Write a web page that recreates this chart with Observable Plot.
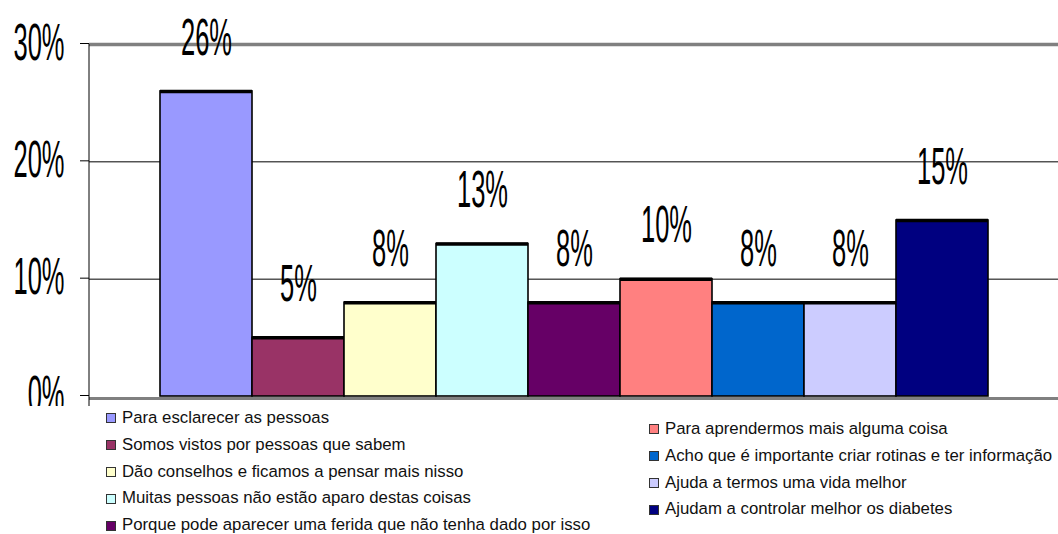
<!DOCTYPE html>
<html><head><meta charset="utf-8">
<script src="https://cdn.jsdelivr.net/npm/d3@7"></script>
<script src="https://cdn.jsdelivr.net/npm/@observablehq/plot@0.6"></script>
<style>
body{margin:0;background:#fff;}
#wrap{position:relative;width:1058px;height:534px;overflow:hidden;font-family:"Liberation Sans",Arial,sans-serif;background:#fff;}
#wrap svg{position:absolute;left:0;top:0;}
.leg{position:absolute;font-size:16.8px;color:#111;}
.item{height:26.8px;line-height:26.8px;white-space:nowrap;display:flex;align-items:center;}
.sw{width:8px;height:8px;border:1px solid #333;margin-right:6px;flex:none;}
</style></head><body><div id="wrap"></div>
<script>
const categories = [
  "Para esclarecer as pessoas",
  "Somos vistos por pessoas que sabem",
  "Dão conselhos e ficamos a pensar mais nisso",
  "Muitas pessoas não estão aparo destas coisas",
  "Porque pode aparecer uma ferida que não tenha dado por isso",
  "Para aprendermos mais alguma coisa",
  "Acho que é importante criar rotinas e ter informação",
  "Ajuda a termos uma vida melhor",
  "Ajudam a controlar melhor os diabetes"
];
const values = [26, 5, 8, 13, 8, 10, 8, 8, 15];
const colors = ["#9999FF", "#993366", "#FFFFCC", "#CCFFFF", "#660066", "#FF8080", "#0066CC", "#CCCCFF", "#000080"];
const yTicks = [0, 10, 20, 30];
const leftLegend = [0, 1, 2, 3, 4];
const rightLegend = [5, 6, 7, 8];

const data = categories.map((c, i) => ({cat: c, value: values[i], color: colors[i], label: values[i] + "%"}));
const FONT = "'Liberation Sans', Arial, sans-serif";

const chart = Plot.plot({
  width: 1058,
  height: 406,
  marginLeft: 89,
  marginRight: 0,
  marginTop: 44,
  marginBottom: 10,
  style: {background: "transparent", fontFamily: FONT},
  x: {type: "band", domain: categories, paddingInner: 0, paddingOuter: 0.76, axis: null},
  y: {domain: [0, 30], axis: null},
  color: {type: "identity"},
  marks: [
    Plot.ruleY(yTicks.filter(t => t > 0 && t < 30), {stroke: "black", strokeWidth: 1}),
    Plot.ruleY([30], {stroke: "#808080", strokeWidth: 3.5}),
    Plot.ruleY([0], {stroke: "#808080", strokeWidth: 3, dy: 2}),
    Plot.barY(data, {x: "cat", y: "value", fill: "color", stroke: "black", strokeWidth: 1.6, inset: 0}),
    Plot.tickY(data, {x: "cat", y: "value", stroke: "black", strokeWidth: 3.5}),
    Plot.text(data, {x: "cat", y: "value", text: "label", dy: -53, fontSize: 51, fontFamily: FONT, fill: "black"}),
    Plot.axisY({ticks: yTicks, tickFormat: d => d + "%", label: null, tickSize: 9, tickPadding: 16, fontSize: 51, fontFamily: FONT, dy: -1, stroke: "black", fill: "black"})
  ]
});

// condense text horizontally
chart.querySelectorAll("text").forEach(t => {
  const tr = t.getAttribute("transform") || "";
  const xa = t.getAttribute("x");
  let pre = "";
  if (xa && !/em$/.test(xa)) { pre = `translate(${+xa},0)`; t.removeAttribute("x"); }
  t.setAttribute("transform", `${tr} ${pre} scale(0.5,1)`);
});

// y axis line
const yS = chart.scale("y");
d3.select(chart).append("line")
  .attr("x1", 89).attr("x2", 89)
  .attr("y1", yS.apply(30)).attr("y2", 406)
  .attr("stroke", "black").attr("stroke-width", 1);

const wrap = document.getElementById("wrap");
wrap.appendChild(chart);

function legendCol(idx, left, top) {
  const col = document.createElement("div");
  col.className = "leg";
  col.style.left = left + "px";
  col.style.top = top + "px";
  idx.forEach(i => {
    const it = document.createElement("div");
    it.className = "item";
    const sw = document.createElement("span");
    sw.className = "sw";
    sw.style.background = colors[i];
    it.appendChild(sw);
    it.appendChild(document.createTextNode(categories[i]));
    col.appendChild(it);
  });
  wrap.appendChild(col);
}
legendCol(leftLegend, 106, 405);
legendCol(rightLegend, 649, 416);
</script>
</body></html>
